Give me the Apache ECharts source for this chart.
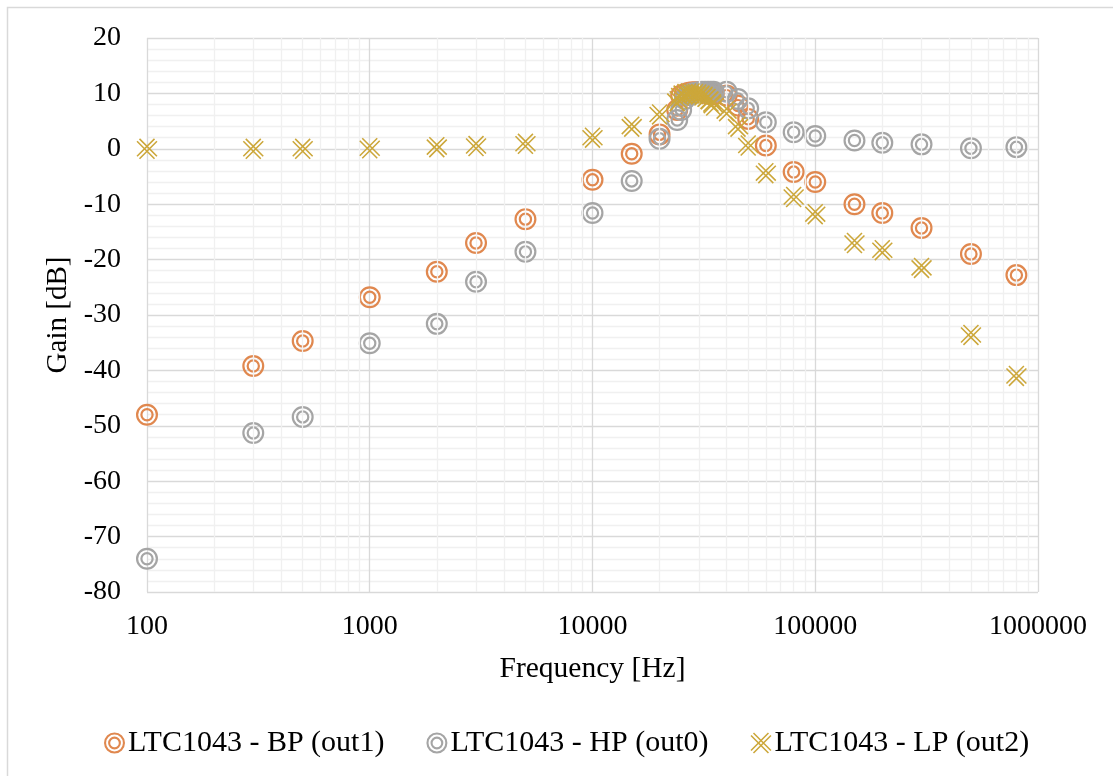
<!DOCTYPE html>
<html>
<head>
<meta charset="utf-8">
<script src="https://cdn.jsdelivr.net/npm/echarts@6/dist/echarts.min.js"></script>
<style>
  html, body { margin: 0; padding: 0; background: #fff; }
  #chart { width: 1113px; height: 776px; }
</style>
</head>
<body>
<div id="chart"></div>
<script>
// Measured frequencies (Hz), shared by all three outputs
const freq = [100, 300, 500, 1000, 2000, 3000, 5000, 10000, 15000, 20000, 24000,
  25000, 26000, 27000, 28000, 29000, 30000, 31000, 32000, 33000, 34000, 35000,
  40000, 45000, 50000, 60000, 80000, 100000, 150000, 200000, 300000, 500000, 800000];

// Gain (dB) of each filter output
const gainBP = [-48.0, -39.2, -34.7, -26.8, -22.2, -17.0, -12.7, -5.6, -0.9, 2.6, 7.0,
  9.6, 9.9, 10.1, 10.2, 10.2, 10.2, 10.2, 10.1, 10.0, 9.9, 9.8,
  9.6, 7.8, 5.4, 0.6, -4.2, -6.0, -10.0, -11.6, -14.3, -19.0, -22.8];

const gainHP = [-74.0, -51.3, -48.4, -35.1, -31.6, -24.0, -18.6, -11.6, -5.8, 1.8, 5.2,
  7.0, 9.0, 9.7, 10.0, 10.1, 10.2, 10.3, 10.3, 10.3, 10.3, 10.3,
  10.3, 9.0, 7.3, 4.8, 3.0, 2.3, 1.5, 1.1, 0.8, 0.1, 0.3];

const gainLP = [0.0, 0.0, 0.0, 0.1, 0.3, 0.5, 0.9, 2.0, 4.0, 6.2, 8.6,
  9.6, 9.9, 10.0, 10.0, 9.9, 9.8, 9.6, 9.4, 9.0, 8.5, 7.8,
  6.8, 4.0, 0.6, -4.4, -8.7, -11.8, -17.0, -18.3, -21.5, -33.6, -41.0];

const seriesNames = ['LTC1043 - BP (out1)', 'LTC1043 - HP (out0)', 'LTC1043 - LP (out2)'];
const seriesColors = ['#E0884F', '#A5A5A5', '#CCA73A'];

// Y axis range and step
const yMin = -80, yMax = 20, yStep = 10;
// X axis decades
const xMin = 100, xMax = 1000000;

// Minor vertical grid values: 2..9 times each decade
const minorX = [];
for (let d = xMin; d < xMax; d *= 10) {
  for (let k = 2; k <= 9; k++) minorX.push(d * k);
}

// --- marker shapes ---
function circlePath(cx, cy, r, sweep) {
  return 'M' + (cx - r) + ' ' + cy +
    ' A' + r + ' ' + r + ' 0 1 ' + sweep + ' ' + (cx + r) + ' ' + cy +
    ' A' + r + ' ' + r + ' 0 1 ' + sweep + ' ' + (cx - r) + ' ' + cy + ' Z ';
}
// Two concentric rings (annuli built with opposite winding)
const c = 10.5;
const doubleRing = 'path://' +
  circlePath(c, c, 10.5, 1) + circlePath(c, c, 8.4, 0) +
  circlePath(c, c, 6.4, 1) + circlePath(c, c, 4.3, 0);

// X drawn with doubled strokes
function strip(x1, y1, x2, y2, t) {
  const dx = x2 - x1, dy = y2 - y1;
  const len = Math.hypot(dx, dy);
  const nx = -dy / len * t / 2, ny = dx / len * t / 2;
  const p = [[x1 + nx, y1 + ny], [x2 + nx, y2 + ny], [x2 - nx, y2 - ny], [x1 - nx, y1 - ny]];
  return 'M' + p.map(q => q[0].toFixed(2) + ' ' + q[1].toFixed(2)).join(' L') + ' Z ';
}
function doubleX() {
  const s = 1.9, t = 1.7, L = 13.5;
  let d = '';
  const dirs = [[1, 1], [1, -1]];
  dirs.forEach(([ux, uy]) => {
    const k = Math.SQRT1_2;
    const dx = ux * k, dy = uy * k;
    const nx = -dy, ny = dx;
    [-s, s].forEach(o => {
      const ox = c + nx * o, oy = c + ny * o;
      d += strip(ox - dx * L, oy - dy * L, ox + dx * L, oy + dy * L, t);
    });
  });
  return 'path://' + d;
}
const xMark = doubleX();
const symbols = [doubleRing, doubleRing, xMark];
const symbolSizes = [22, 22, 21];
const gains = [gainBP, gainHP, gainLP];

const fontFamily = '"Liberation Serif", "Times New Roman", serif';

const chart = echarts.init(document.getElementById('chart'), null, { renderer: 'canvas' });

const dataSeries = seriesNames.map((name, i) => ({
  name: name,
  type: 'scatter',
  symbol: symbols[i],
  symbolSize: symbolSizes[i],
  itemStyle: { color: seriesColors[i], opacity: 1 },
  data: freq.map((f, j) => [f, gains[i][j]]),
  z: 3 + i,
  animation: false
}));

chart.setOption({
  backgroundColor: '#fff',
  animation: false,
  graphic: [{
    type: 'rect',
    shape: { x: 7.5, y: 7.5, width: 1200, height: 900 },
    style: { fill: 'none', stroke: '#D9D9D9', lineWidth: 1.5 },
    silent: true,
    z: -10
  }],
  grid: { left: 147, top: 38, right: 75, bottom: 184, containLabel: false },
  xAxis: {
    type: 'log',
    logBase: 10,
    min: xMin,
    max: xMax,
    name: 'Frequency [Hz]',
    nameLocation: 'middle',
    nameGap: 62,
    nameTextStyle: { fontFamily: fontFamily, fontSize: 29.5, color: '#000' },
    axisLine: { show: false },
    axisTick: { show: false },
    axisLabel: {
      fontFamily: fontFamily, fontSize: 28, color: '#000', margin: 21,
      formatter: v => String(Math.round(v))
    },
    splitLine: { show: true, lineStyle: { color: '#D9D9D9', width: 1.3 } }
  },
  yAxis: {
    type: 'value',
    min: yMin,
    max: yMax,
    interval: yStep,
    name: 'Gain [dB]',
    nameLocation: 'middle',
    nameGap: 72,
    nameTextStyle: { fontFamily: fontFamily, fontSize: 29, color: '#000' },
    axisLine: { show: false },
    axisTick: { show: false },
    axisLabel: { fontFamily: fontFamily, fontSize: 28, color: '#000', margin: 26 },
    splitLine: { show: true, lineStyle: { color: '#D9D9D9', width: 1.3 } },
    minorTick: { show: false, splitNumber: 5 },
    minorSplitLine: { show: true, lineStyle: { color: '#F0F0F0', width: 1.3 } }
  },
  legend: {
    left: 104,
    top: 728,
    padding: 0,
    itemGap: 42,
    itemWidth: 21,
    itemHeight: 21,
    textStyle: { fontFamily: fontFamily, fontSize: 30, color: '#000', padding: [0, 0, 0, -2] },
    data: seriesNames.map((n, i) => ({ name: n, icon: symbols[i] }))
  },
  series: [
    {
      name: 'minor-grid',
      type: 'scatter',
      data: [],
      z: 1,
      silent: true,
      markLine: {
        silent: true,
        symbol: ['none', 'none'],
        label: { show: false },
        animation: false,
        lineStyle: { type: 'solid', color: '#F0F0F0', width: 1.3 },
        data: minorX.map(v => ({ xAxis: v }))
      }
    }
  ].concat(dataSeries)
});
</script>
</body>
</html>
